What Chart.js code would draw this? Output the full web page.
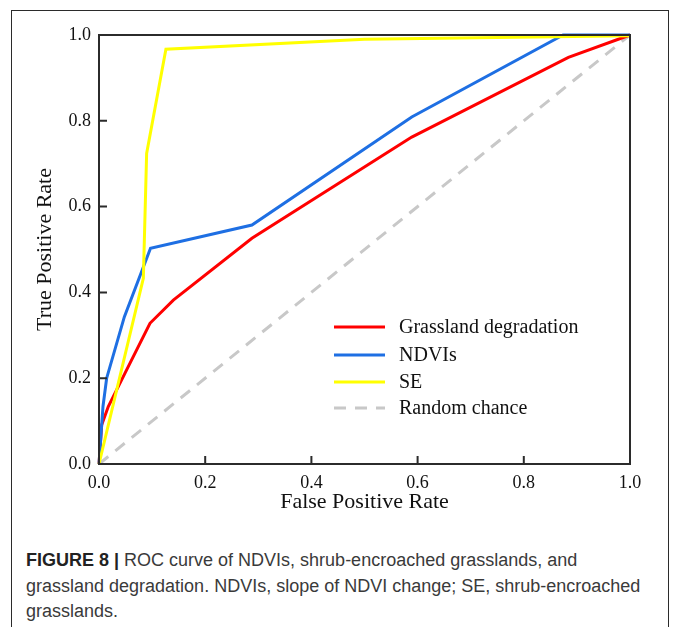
<!DOCTYPE html>
<html>
<head>
<meta charset="utf-8">
<script src="https://cdn.jsdelivr.net/npm/chart.js@4"></script>
<style>
  body { margin: 0; background: #fff; width: 673px; height: 627px; overflow: hidden; position: relative; }
  #frame { position: absolute; left: 11px; top: 10px; width: 658px; height: 640px; border: 1.5px solid #2b2b2b; box-sizing: border-box; }
  #wrap { position: absolute; left: 0; top: 0; width: 673px; height: 530px; }
  #caption { position: absolute; left: 26px; top: 548px; width: 640px; font-family: "Liberation Sans", Arial, sans-serif;
             font-size: 18px; line-height: 25.5px; color: #3a3a3a; white-space: nowrap; }
  #caption b { color: #222; }
</style>
</head>
<body>
<div id="frame"></div>
<div id="wrap"><canvas id="roc"></canvas></div>
<div id="caption"><b>FIGURE 8 |</b> ROC curve of NDVIs, shrub-encroached grasslands, and<br>grassland degradation. NDVIs, slope of NDVI change; SE, shrub-encroached<br>grasslands.</div>
<script>
// ROC points
const gdFpr = [0, 0.005, 0.0175, 0.049, 0.096, 0.14, 0.288, 0.589, 0.884, 1.0];
const gdTpr = [0, 0.091, 0.134, 0.212, 0.328, 0.382, 0.526, 0.762, 0.948, 1.0];

const ndviFpr = [0, 0.0075, 0.0144, 0.0477, 0.097, 0.288, 0.589, 0.874, 1.0];
const ndviTpr = [0, 0.134, 0.2, 0.343, 0.503, 0.557, 0.809, 1.0, 1.0];

const seFpr = [0, 0.0835, 0.0897, 0.126, 0.5, 1.0];
const seTpr = [0, 0.433, 0.724, 0.967, 0.99, 0.998];

const randFpr = [0, 1];
const randTpr = [0, 1];

const tickValues = [0, 0.2, 0.4, 0.6, 0.8, 1.0];

function pts(xs, ys) {
    return xs.map((x, i) => ({x: x, y: ys[i]}));
}

const serif = "'Liberation Serif', 'Times New Roman', serif";

// box around plot, inward ticks and the legend inside the plot
const boxPlugin = {
    id: 'box',
    afterDatasetsDraw(chart) {
        const ctx = chart.ctx;
        const a = chart.chartArea;
        const xs = chart.scales.x, ys = chart.scales.y;
        ctx.save();
        ctx.strokeStyle = '#2b2b2b';
        ctx.lineWidth = 2;
        ctx.strokeRect(a.left, a.top, a.right - a.left, a.bottom - a.top);
        ctx.beginPath();
        tickValues.forEach(v => {
            const px = xs.getPixelForValue(v);
            ctx.moveTo(px, a.bottom);
            ctx.lineTo(px, a.bottom - 8);
            const py = ys.getPixelForValue(v);
            ctx.moveTo(a.left, py);
            ctx.lineTo(a.left + 8, py);
        });
        ctx.stroke();

        // legend
        const lx = 334, tx = 399;
        const rows = [327, 355, 382, 408];
        ctx.font = '20px ' + serif;
        ctx.textBaseline = 'middle';
        ctx.fillStyle = '#111';
        chart.data.datasets.forEach((ds, i) => {
            ctx.beginPath();
            ctx.strokeStyle = ds.borderColor;
            ctx.lineWidth = ds.borderWidth;
            ctx.setLineDash(ds.borderDash || []);
            ctx.moveTo(lx, rows[i]);
            ctx.lineTo(lx + 51, rows[i]);
            ctx.stroke();
            ctx.setLineDash([]);
            ctx.fillText(ds.label, tx, rows[i] + 1);
        });
        ctx.restore();
    }
};

new Chart('roc', {
    type: 'scatter',
    data: {
        datasets: [{
            label: 'Grassland degradation',
            data: pts(gdFpr, gdTpr),
            borderColor: '#ff0000',
            borderWidth: 3,
            order: 2
        }, {
            label: 'NDVIs',
            data: pts(ndviFpr, ndviTpr),
            borderColor: '#1e6fe3',
            borderWidth: 3,
            order: 1
        }, {
            label: 'SE',
            data: pts(seFpr, seTpr),
            borderColor: '#ffff00',
            borderWidth: 3,
            order: 0
        }, {
            label: 'Random chance',
            data: pts(randFpr, randTpr),
            borderColor: '#c8c8c8',
            borderWidth: 3,
            borderDash: [12, 9],
            order: 3
        }]
    },
    options: {
        responsive: true,
        maintainAspectRatio: false,
        animation: false,
        showLine: true,
        clip: 3,
        elements: {
            point: { radius: 0, hoverRadius: 0 },
            line: { tension: 0, fill: false }
        },
        layout: { padding: { top: 35, right: 43, left: 0, bottom: 0 } },
        plugins: {
            legend: { display: false },
            tooltip: { enabled: false }
        },
        scales: {
            x: {
                type: 'linear',
                min: 0, max: 1,
                afterFit: s => { s.height = 66; },
                afterBuildTicks: s => { s.ticks = tickValues.map(v => ({value: v})); },
                grid: { display: false },
                border: { display: false },
                ticks: {
                    padding: 0,
                    color: '#111',
                    font: { family: serif, size: 18 },
                    maxRotation: 0,
                    callback: v => v.toFixed(1)
                },
                title: {
                    display: true,
                    text: 'False Positive Rate',
                    color: '#111',
                    font: { family: serif, size: 22 },
                    padding: { top: 0, bottom: 15 }
                }
            },
            y: {
                type: 'linear',
                min: 0, max: 1,
                afterFit: s => { s.width = 99; },
                afterBuildTicks: s => { s.ticks = tickValues.map(v => ({value: v})); },
                grid: { display: false },
                border: { display: false },
                ticks: {
                    padding: 0,
                    color: '#111',
                    font: { family: serif, size: 18 },
                    callback: v => v.toFixed(1)
                },
                title: {
                    display: true,
                    text: 'True Positive Rate',
                    color: '#111',
                    font: { family: serif, size: 22 },
                    padding: { top: 32, bottom: 0 }
                }
            }
        }
    },
    plugins: [boxPlugin]
});
</script>
</body>
</html>
